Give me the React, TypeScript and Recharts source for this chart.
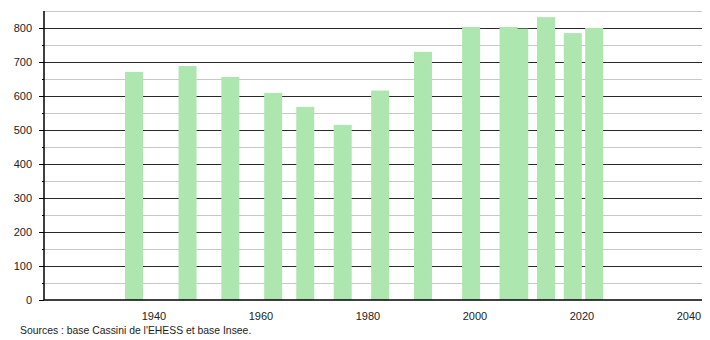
import React from 'react';
import { BarChart, Bar, XAxis, YAxis, CartesianGrid } from 'recharts';

const years = [1936, 1946, 1954, 1962, 1968, 1975, 1982, 1990, 1999, 2006, 2008, 2013, 2018, 2022];
const population = [671, 688, 656, 609, 568, 515, 616, 730, 803, 803, 798, 832, 785, 800];
const xTicks = [1940, 1960, 1980, 2000, 2020, 2040];
const majorLines = [100, 200, 300, 400, 500, 600, 700, 800];
const minorLines = [50, 150, 250, 350, 450, 550, 650, 750, 850];
const yTicks = [0, 50, 100, 150, 200, 250, 300, 350, 400, 450, 500, 550, 600, 650, 700, 750, 800, 850];

const data = years.map((year, i) => ({ year, pop: population[i] }));

const FONT = '"Liberation Sans", Arial, sans-serif';
const BAR_W = 18;

const YTick = (props: any) => {
  const { x, y, payload } = props;
  const v = payload.value;
  const major = v % 100 === 0;
  if (v === 850) return null;
  return (
    <g>
      <line x1={x - (major ? 5 : 2)} x2={x} y1={y} y2={y} stroke="#000" shapeRendering="crispEdges" />
      {major && (
        <text x={x - 12} y={y} dy={4} textAnchor="end" fontSize={11} fill="#222" fontFamily={FONT}>
          {v}
        </text>
      )}
    </g>
  );
};

const XTick = (props: any) => {
  const { x, y, payload } = props;
  return (
    <text x={x} y={y} dy={12} textAnchor="middle" fontSize={11} fill="#222" fontFamily={FONT}>
      {payload.value}
    </text>
  );
};

// bars on a numeric axis get squeezed by the 2006/2008 gap, so draw them at a fixed width
const SoftBar = (props: any) => {
  const { x, y, width, height } = props;
  const cx = x + width / 2 + 1;
  return (
    <rect
      x={cx - BAR_W / 2}
      y={y}
      width={BAR_W}
      height={height}
      fill="#aee6b0"
      filter="url(#soft)"
    />
  );
};

const App = () => {
  return (
    <div style={{ position: 'absolute', left: 0, top: 0, width: 710, height: 340, background: '#fff' }}>
      <svg width={0} height={0} style={{ position: 'absolute' }}>
        <defs>
          <filter id="soft" x="-20%" y="-2%" width="140%" height="104%">
            <feGaussianBlur stdDeviation="0.7" />
          </filter>
        </defs>
      </svg>
      <BarChart
        width={710}
        height={340}
        data={data}
        margin={{ top: 11, right: 8, bottom: 20, left: 0 }}
      >
        <CartesianGrid vertical={false} horizontalValues={minorLines} stroke="#c8c8c8" shapeRendering="crispEdges" />
        <CartesianGrid vertical={false} horizontalValues={majorLines} stroke="#2a2a2a" shapeRendering="crispEdges" />
        <XAxis
          dataKey="year"
          type="number"
          domain={[1919.44, 2042.43]}
          allowDataOverflow
          ticks={xTicks}
          tick={<XTick />}
          tickLine={false}
          axisLine={{ stroke: '#000', strokeWidth: 1.5 }}
          height={20}
        />
        <YAxis
          type="number"
          domain={[0, 850]}
          ticks={yTicks}
          interval={0}
          tick={<YTick />}
          tickSize={0}
          tickMargin={0}
          tickLine={false}
          axisLine={{ stroke: '#000', strokeWidth: 1.5 }}
          width={44}
        />
        <Bar dataKey="pop" fill="#aee6b0" barSize={BAR_W} shape={<SoftBar />} isAnimationActive={false} />
      </BarChart>
      <div
        style={{
          position: 'absolute',
          left: 20,
          top: 325,
          fontSize: 10.4,
          fontFamily: FONT,
          color: '#222',
        }}
      >
        Sources : base Cassini de l'EHESS et base Insee.
      </div>
    </div>
  );
};

export default App;
